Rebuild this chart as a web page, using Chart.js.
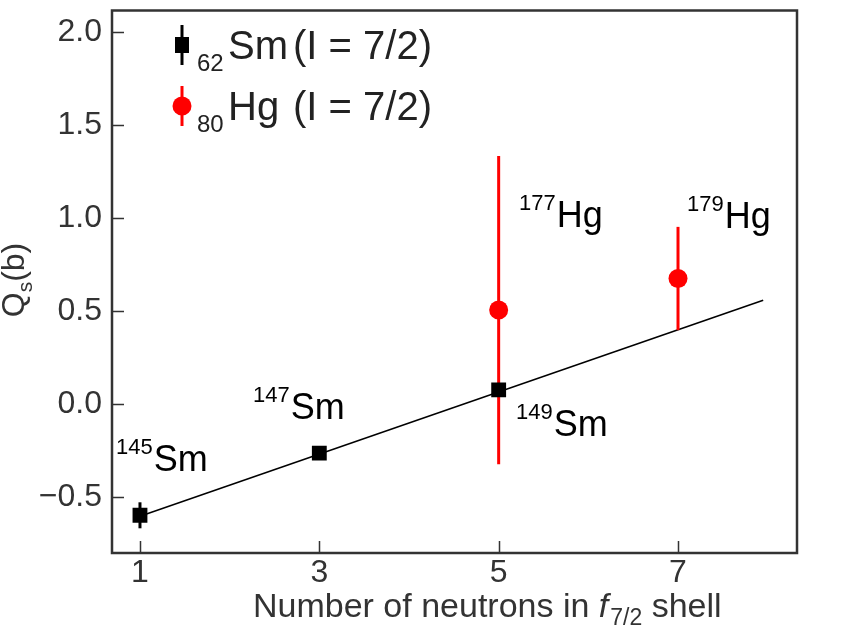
<!DOCTYPE html>
<html>
<head>
<meta charset="utf-8">
<script src="https://cdn.jsdelivr.net/npm/chart.js@4"></script>
<style>
  html, body { margin: 0; padding: 0; background: #fff; }
  canvas { display: block; }
</style>
</head>
<body>
<canvas id="qsChart" width="857" height="633"></canvas>
<script>
// data
const smN = [1, 3, 5];
const smQ = [-0.60, -0.265, 0.075];
const smErr = [0.07, 0.02, 0.02];

const hgN = [5, 7];
const hgQ = [0.505, 0.675];
const hgErr = [0.83, 0.278];

const fitN = [1, 7.95];
const fitQ = [-0.605, 0.558];

const xTicks = [1, 3, 5, 7];
const yTicks = [-0.5, 0.0, 0.5, 1.0, 1.5, 2.0];

const FONT = '"Liberation Sans", Arial, Helvetica, sans-serif';
const RED = '#ff0000';
const AXIS = '#333333';

// isotope labels, anchored in data units
const isoLabels = [
  { mass: '145', el: 'Sm', x: 0.732, y: -0.363 },
  { mass: '147', el: 'Sm', x: 2.26, y: -0.082 },
  { mass: '149', el: 'Sm', x: 5.193, y: -0.172 },
  { mass: '177', el: 'Hg', x: 5.227, y: 0.952 },
  { mass: '179', el: 'Hg', x: 7.10, y: 0.946 }
];

function toPts(xs, ys) {
  return xs.map((x, i) => ({ x: x, y: ys[i] }));
}

// draws runs of text one after another; returns end x
function drawRuns(ctx, runs, x, y) {
  let cx = x;
  runs.forEach(r => {
    ctx.font = (r.italic ? 'italic ' : '') + r.size + 'px ' + FONT;
    ctx.fillText(r.t, cx, y + (r.dy || 0));
    cx += ctx.measureText(r.t).width + (r.gap || 0);
  });
  return cx;
}

function runsWidth(ctx, runs) {
  let w = 0;
  runs.forEach(r => {
    ctx.font = (r.italic ? 'italic ' : '') + r.size + 'px ' + FONT;
    w += ctx.measureText(r.t).width + (r.gap || 0);
  });
  return w;
}

const errorBars = {
  id: 'errorBars',
  beforeDatasetDraw(chart, args) {
    const ds = chart.data.datasets[args.index];
    if (!ds.errors) return;
    const ctx = chart.ctx;
    const yScale = chart.scales.y;
    ctx.save();
    ctx.strokeStyle = ds.errColor;
    ctx.lineWidth = 3;
    args.meta.data.forEach((pt, i) => {
      const v = ds.data[i].y;
      const e = ds.errors[i];
      ctx.beginPath();
      ctx.moveTo(pt.x, yScale.getPixelForValue(v + e));
      ctx.lineTo(pt.x, yScale.getPixelForValue(v - e));
      ctx.stroke();
    });
    ctx.restore();
  }
};

const frame = {
  id: 'frame',
  afterDraw(chart) {
    const ctx = chart.ctx;
    const a = chart.chartArea;
    const xs = chart.scales.x, ys = chart.scales.y;
    ctx.save();
    ctx.strokeStyle = AXIS;
    // inner ticks
    ctx.lineWidth = 1.5;
    ctx.beginPath();
    yTicks.forEach(v => {
      const py = Math.round(ys.getPixelForValue(v)) + 0.5;
      ctx.moveTo(a.left, py);
      ctx.lineTo(a.left + 12, py);
    });
    xTicks.forEach(v => {
      const px = Math.round(xs.getPixelForValue(v)) + 0.5;
      ctx.moveTo(px, a.bottom);
      ctx.lineTo(px, a.bottom - 12);
    });
    ctx.stroke();
    ctx.lineWidth = 2.5;
    ctx.strokeRect(a.left, a.top, a.right - a.left, a.bottom - a.top);

    // isotope labels
    ctx.fillStyle = '#000';
    ctx.textBaseline = 'alphabetic';
    isoLabels.forEach(l => {
      const px = xs.getPixelForValue(l.x);
      const py = ys.getPixelForValue(l.y);
      drawRuns(ctx, [
        { t: l.mass, size: 22, dy: -17, gap: 1 },
        { t: l.el, size: 36 }
      ], px, py);
    });

    // legend
    const legendRows = [
      { y: 45, sub: '62', el: 'Sm', color: '#000', square: true, half: 20 },
      { y: 106, sub: '80', el: 'Hg', color: RED, square: false, half: 20 }
    ];
    legendRows.forEach(r => {
      ctx.strokeStyle = r.color;
      ctx.fillStyle = r.color;
      ctx.lineWidth = 3;
      ctx.beginPath();
      ctx.moveTo(182, r.y - r.half);
      ctx.lineTo(182, r.y + r.half);
      ctx.stroke();
      if (r.square) {
        ctx.fillRect(175, r.y - 8, 14, 16);
      } else {
        ctx.beginPath();
        ctx.arc(182, r.y, 9.5, 0, Math.PI * 2);
        ctx.fill();
      }
      ctx.fillStyle = '#222';
      drawRuns(ctx, [{ t: r.sub, size: 24 }], 197, r.y + 26);
      drawRuns(ctx, [{ t: r.el, size: 40 }], 228, r.y + 14);
      drawRuns(ctx, [{ t: '(I = 7/2)', size: 40 }], 293, r.y + 14);
    });

    // axis titles
    ctx.fillStyle = AXIS;
    drawRuns(ctx, [
      { t: 'Number of neutrons in ', size: 34 },
      { t: 'f', size: 34, italic: true, gap: 2 },
      { t: '7/2', size: 23, dy: 8 },
      { t: ' shell', size: 34 }
    ], 253, 617);

    const yRuns = [
      { t: 'Q', size: 32 },
      { t: 's', size: 21, dy: 8 },
      { t: '(b)', size: 32 }
    ];
    ctx.translate(24, 280);
    ctx.rotate(-Math.PI / 2);
    drawRuns(ctx, yRuns, -runsWidth(ctx, yRuns) / 2, 0);
    ctx.restore();
  }
};

const ctx = document.getElementById('qsChart').getContext('2d');

const qsChart = new Chart(ctx, {
  type: 'scatter',
  data: {
    datasets: [
      {
        label: 'Sm',
        data: toPts(smN, smQ),
        errors: smErr,
        errColor: '#000',
        pointStyle: 'rect',
        pointRadius: 10.5,
        pointBackgroundColor: '#000',
        pointBorderWidth: 0
      },
      {
        label: 'Hg',
        data: toPts(hgN, hgQ),
        errors: hgErr,
        errColor: RED,
        pointStyle: 'circle',
        pointRadius: 9.5,
        pointBackgroundColor: RED,
        pointBorderWidth: 0
      },
      {
        label: 'fit',
        data: toPts(fitN, fitQ),
        showLine: true,
        borderColor: '#000',
        borderWidth: 1.5,
        pointRadius: 0
      }
    ]
  },
  options: {
    responsive: false,
    animation: false,
    events: [],
    layout: { padding: { top: 2, right: 60, left: 0, bottom: 0 } },
    plugins: {
      legend: { display: false },
      tooltip: { enabled: false }
    },
    scales: {
      x: {
        type: 'linear',
        min: 0.688,
        max: 8.327,
        afterBuildTicks: s => { s.ticks = xTicks.map(v => ({ value: v })); },
        afterFit: s => { s.height = 80; s.paddingLeft = 0; s.paddingRight = 0; },
        grid: { display: false, drawTicks: false },
        border: { display: false },
        ticks: {
          padding: 1,
          color: AXIS,
          font: { family: FONT, size: 32 },
          maxRotation: 0,
          callback: v => String(v)
        }
      },
      y: {
        type: 'linear',
        min: -0.803,
        max: 2.118,
        afterBuildTicks: s => { s.ticks = yTicks.map(v => ({ value: v })); },
        afterFit: s => { s.width = 112; s.paddingTop = 0; s.paddingBottom = 0; },
        grid: { display: false, drawTicks: false },
        border: { display: false },
        ticks: {
          padding: 10,
          color: AXIS,
          font: { family: FONT, size: 32 },
          callback: v => v.toFixed(1).replace('-', '\u2212')
        }
      }
    }
  },
  plugins: [errorBars, frame]
});
</script>
</body>
</html>
